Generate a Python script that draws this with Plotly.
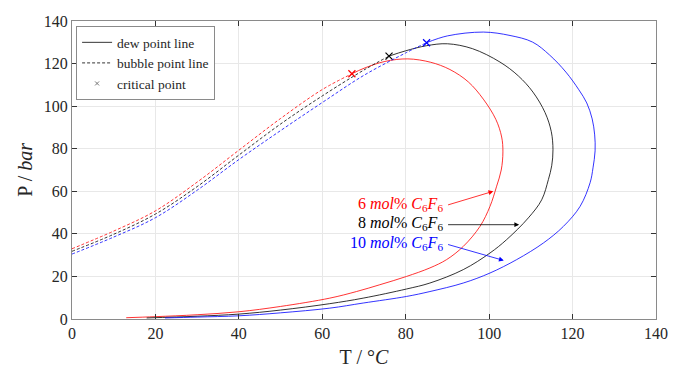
import plotly.graph_objects as go

# ---- data ----
compositions = ["6", "8", "10"]
colors = ["#ff0000", "#000000", "#0000ff"]

bubble_T_6 = [0, 10, 20, 30, 40, 50, 60, 67.1]
bubble_P_6 = [33.0, 41.3, 50.8, 64.3, 79.3, 94.2, 107.8, 115.2]
bubble_T_8 = [0, 10, 20, 30, 40, 50, 60, 70, 76.0]
bubble_P_8 = [31.8, 39.8, 49.3, 62.2, 77.0, 91.6, 104.8, 117.0, 123.5]
bubble_T_10 = [0, 10, 20, 30, 40, 50, 60, 70, 80, 85.0]
bubble_P_10 = [30.5, 38.5, 47.6, 60.5, 74.9, 88.5, 101.7, 114.5, 125.0, 129.8]

dew_T_6 = [67.1, 70, 75, 80.5, 86, 90.6, 95, 98.6, 101.6, 103.0, 103.3, 102.9, 101.8, 100.2, 97.8, 93.8, 89.8, 85.8, 80.2, 73.8, 68.2, 61.8, 50, 40, 30, 20, 13]
dew_P_6 = [115.2, 117.8, 121.0, 122.2, 120.6, 117.2, 111.4, 103.3, 93.8, 85.5, 78.5, 70.0, 62.4, 52.9, 43.5, 34.1, 27.9, 24.0, 20.0, 16.1, 12.9, 9.8, 5.9, 3.4, 2.0, 1.1, 0.6]
dew_T_8 = [76.0, 80, 85, 90, 96, 102.6, 107, 110.5, 113.4, 114.9, 115.3, 115.0, 114.2, 112.6, 109.4, 104.2, 100.2, 93.8, 85.8, 80.2, 69.8, 61.8, 50, 40, 30, 17.9]
dew_P_8 = [123.5, 126.0, 128.4, 129.3, 127.0, 120.7, 114.2, 106.6, 97.0, 88.0, 79.5, 72.0, 65.5, 56.0, 47.5, 37.3, 31.0, 23.2, 16.9, 14.1, 9.8, 7.2, 4.2, 2.3, 1.3, 0.5]
dew_T_10 = [85.0, 90, 98.6, 105, 110.4, 114.5, 118.4, 121.5, 123.4, 124.7, 125.3, 125.4, 124.9, 124.2, 121.8, 117.8, 113.0, 106.6, 100.2, 93.8, 85.8, 80.2, 69.8, 61.8, 50, 40, 30, 22.3]
dew_P_10 = [129.8, 133.0, 134.8, 133.2, 130.1, 124.0, 116.0, 107.7, 101.5, 94.0, 86.5, 79.0, 71.0, 64.0, 52.9, 43.5, 35.7, 27.9, 21.6, 16.9, 12.9, 10.6, 7.5, 5.1, 2.9, 1.5, 0.9, 0.5]

crit_T = [67.1, 76.0, 85.0]
crit_P = [115.2, 123.5, 129.8]

label_T = [89.4, 89.4, 89.4]
label_P = [53.9, 45.0, 35.4]
arrow_tail_T = [89.8, 89.8, 89.8]
arrow_tail_P = [53.4, 44.3, 35.2]
arrow_head_T = [101.0, 107.2, 103.5]
arrow_head_P = [60.0, 44.3, 27.5]

x_ticks = [0, 20, 40, 60, 80, 100, 120, 140]
y_ticks = [0, 20, 40, 60, 80, 100, 120, 140]

FONT = "Liberation Serif, Times New Roman, DejaVu Serif, serif"
bubbles = [(bubble_T_6, bubble_P_6), (bubble_T_8, bubble_P_8), (bubble_T_10, bubble_P_10)]
dews = [(dew_T_6, dew_P_6), (dew_T_8, dew_P_8), (dew_T_10, dew_P_10)]

fig = go.Figure()
for i in range(3):
    bt, bp = bubbles[i]
    dt, dp = dews[i]
    fig.add_trace(go.Scatter(x=bt, y=bp, mode="lines", showlegend=False,
                             line=dict(color=colors[i], width=0.8, dash="3px,2px", shape="spline", smoothing=1.0)))
    fig.add_trace(go.Scatter(x=dt, y=dp, mode="lines", showlegend=False,
                             line=dict(color=colors[i], width=0.8, shape="spline", smoothing=1.0)))
    fig.add_trace(go.Scatter(x=[crit_T[i]], y=[crit_P[i]], mode="markers", showlegend=False,
                             marker=dict(symbol="x-thin", size=7, line=dict(color=colors[i], width=1.2))))

# legend-only entries
fig.add_trace(go.Scatter(x=[None], y=[None], mode="lines", name="dew point line",
                         line=dict(color="#000000", width=0.8)))
fig.add_trace(go.Scatter(x=[None], y=[None], mode="lines", name="bubble point line",
                         line=dict(color="#000000", width=0.8, dash="3px,2px")))
fig.add_trace(go.Scatter(x=[None], y=[None], mode="markers", name="critical point",
                         marker=dict(symbol="x-thin", size=4, line=dict(color="#777777", width=1))))

for i in range(3):
    txt = f"{compositions[i]} <i>mol</i>% <i>C</i><sub>6</sub><i>F</i><sub>6</sub>"
    fig.add_annotation(x=label_T[i], y=label_P[i], text=txt, showarrow=False,
                       xanchor="right", yanchor="middle",
                       font=dict(family=FONT, size=16, color=colors[i]))
    fig.add_annotation(x=arrow_head_T[i], y=arrow_head_P[i], ax=arrow_tail_T[i], ay=arrow_tail_P[i],
                       axref="x", ayref="y", xref="x", yref="y", text="", showarrow=True,
                       arrowhead=2, arrowsize=1.2, arrowwidth=0.8, arrowcolor=colors[i], standoff=0)

# y-axis title placed as a rotated annotation for precise positioning
fig.add_annotation(xref="paper", yref="paper", x=-0.081, y=0.5, text="P / <i>bar</i>",
                   textangle=-90, showarrow=False, xanchor="center", yanchor="middle",
                   font=dict(family=FONT, size=20, color="#262626"))

axis_common = dict(showgrid=True, gridcolor="#e8e8e8", gridwidth=1, zeroline=False,
                   showline=True, linecolor="#8a8a8a", linewidth=1, mirror="ticks",
                   ticks="inside", ticklen=5, tickcolor="#333333", tickwidth=1, automargin=False,
                   tickfont=dict(family=FONT, size=16, color="#262626"))

fig.update_xaxes(range=[0, 140], tickvals=x_ticks, **axis_common,
                 title=dict(text="T / °<i>C</i>", font=dict(family=FONT, size=20, color="#262626")))
fig.update_yaxes(range=[0, 140], tickvals=y_ticks, **axis_common)

fig.update_layout(
    width=673, height=368,
    margin=dict(l=72, r=17, t=21, b=49),
    plot_bgcolor="white", paper_bgcolor="white",
    font=dict(family=FONT, color="#262626"),
    legend=dict(x=0.007, y=0.983, xanchor="left", yanchor="top",
                bgcolor="white", bordercolor="#8a8a8a", borderwidth=1,
                font=dict(family=FONT, size=13.5, color="#262626"),
                tracegroupgap=0, itemwidth=30),
)

fig.write_html("out.html")
